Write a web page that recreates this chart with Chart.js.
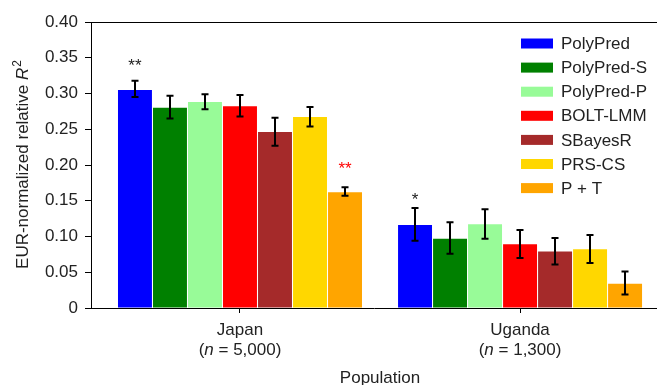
<!DOCTYPE html>
<html><head><meta charset="utf-8">
<script src="https://cdn.jsdelivr.net/npm/chart.js@4.4.0/dist/chart.umd.min.js"></script>
<style>html,body{margin:0;padding:0;background:#fff;overflow:hidden}</style>
</head><body>
<canvas id="c" width="657" height="385"></canvas>
<script>
// ---- data ----
const categories = ['Japan', 'Uganda'];
const sampleSizes = ['5,000', '1,300'];
const methods = ['PolyPred', 'PolyPred-S', 'PolyPred-P', 'BOLT-LMM', 'SBayesR', 'PRS-CS', 'P + T'];
const colors = ['#0000ff', '#008000', '#98fb98', '#ff0000', '#a52a2a', '#ffd700', '#ffa500'];

const polyPred   = [0.305, 0.116];
const polyPredS  = [0.280, 0.097];
const polyPredP  = [0.288, 0.117];
const boltLmm    = [0.282, 0.089];
const sBayesR    = [0.246, 0.079];
const prsCs      = [0.267, 0.082];
const pT         = [0.162, 0.034];

const polyPredLo  = [0.295, 0.094];
const polyPredHi  = [0.318, 0.140];
const polyPredSLo = [0.265, 0.076];
const polyPredSHi = [0.297, 0.120];
const polyPredPLo = [0.278, 0.097];
const polyPredPHi = [0.299, 0.138];
const boltLmmLo   = [0.268, 0.070];
const boltLmmHi   = [0.298, 0.109];
const sBayesRLo   = [0.227, 0.061];
const sBayesRHi   = [0.266, 0.098];
const prsCsLo     = [0.254, 0.063];
const prsCsHi     = [0.281, 0.102];
const pTLo        = [0.157, 0.019];
const pTHi        = [0.169, 0.051];

const yTickValues = [0, 0.05, 0.10, 0.15, 0.20, 0.25, 0.30, 0.35, 0.40];
const yTickLabels = ['0', '0.05', '0.10', '0.15', '0.20', '0.25', '0.30', '0.35', '0.40'];

// significance marks: method index, category index, text, colour, height (data units)
const sigMethod = [0, 6, 0];
const sigCat    = [0, 0, 1];
const sigText   = ['**', '**', '*'];
const sigColor  = ['#222222', '#ff0000', '#222222'];
const sigY      = [0.331, 0.187, 0.144];

const values = [polyPred, polyPredS, polyPredP, boltLmm, sBayesR, prsCs, pT];
const lows   = [polyPredLo, polyPredSLo, polyPredPLo, boltLmmLo, sBayesRLo, prsCsLo, pTLo];
const highs  = [polyPredHi, polyPredSHi, polyPredPHi, boltLmmHi, sBayesRHi, prsCsHi, pTHi];

const FAM = '"Liberation Sans", Arial, Helvetica, sans-serif';
const TXT = '#222222';

const datasets = methods.map((m, i) => ({
  label: m,
  data: values[i].map((v, j) => ({ x: j, y: v })),
  backgroundColor: colors[i],
  borderWidth: 0,
  barPercentage: 0.97,
  categoryPercentage: 0.875
}));

const decorPlugin = {
  id: 'decor',
  afterDatasetsDraw(chart) {
    const ctx = chart.ctx;
    const ys = chart.scales.y, xs = chart.scales.x;
    const ca = chart.chartArea;
    ctx.save();
    // top frame line
    ctx.strokeStyle = '#000'; ctx.lineWidth = 1;
    ctx.beginPath(); ctx.moveTo(ca.left, ca.top + 0.5); ctx.lineTo(ca.right, ca.top + 0.5); ctx.stroke();
    // error bars
    ctx.strokeStyle = '#000'; ctx.lineWidth = 2;
    chart.data.datasets.forEach((ds, i) => {
      const meta = chart.getDatasetMeta(i);
      meta.data.forEach((el, j) => {
        const x = Math.round(el.x);
        const yl = ys.getPixelForValue(lows[i][j]);
        const yh = ys.getPixelForValue(highs[i][j]);
        ctx.beginPath();
        ctx.moveTo(x, yl); ctx.lineTo(x, yh);
        ctx.moveTo(x - 3.5, yl); ctx.lineTo(x + 3.5, yl);
        ctx.moveTo(x - 3.5, yh); ctx.lineTo(x + 3.5, yh);
        ctx.stroke();
      });
    });
    // significance marks
    ctx.font = '17px ' + FAM;
    ctx.textAlign = 'center'; ctx.textBaseline = 'alphabetic';
    sigText.forEach((t, k) => {
      const el = chart.getDatasetMeta(sigMethod[k]).data[sigCat[k]];
      ctx.fillStyle = sigColor[k];
      ctx.fillText(t, el.x, ys.getPixelForValue(sigY[k]));
    });
    // legend
    const lx = ca.right - 136;
    let ly = ca.top + 21.5;
    ctx.textAlign = 'left'; ctx.textBaseline = 'middle';
    chart.data.datasets.forEach((ds) => {
      ctx.fillStyle = ds.backgroundColor;
      ctx.fillRect(lx, ly - 5, 32, 10);
      ctx.fillStyle = TXT;
      ctx.fillText(ds.label, lx + 40, ly + 1);
      ly += 24.1;
    });
    // x category labels
    ctx.textBaseline = 'alphabetic';
    categories.forEach((c, i) => {
      const px = xs.getPixelForValue(i);
      ctx.textAlign = 'center';
      ctx.font = '17px ' + FAM;
      ctx.fillText(c, px, ca.bottom + 27);
      const p1 = '(', p2 = 'n', p3 = ' = ' + sampleSizes[i] + ')';
      ctx.font = '17px ' + FAM; const w1 = ctx.measureText(p1).width; const w3 = ctx.measureText(p3).width;
      ctx.font = 'italic 17px ' + FAM; const w2 = ctx.measureText(p2).width;
      let sx = px - (w1 + w2 + w3) / 2;
      ctx.textAlign = 'left';
      ctx.font = '17px ' + FAM; ctx.fillText(p1, sx, ca.bottom + 47); sx += w1;
      ctx.font = 'italic 17px ' + FAM; ctx.fillText(p2, sx, ca.bottom + 47); sx += w2;
      ctx.font = '17px ' + FAM; ctx.fillText(p3, sx, ca.bottom + 47);
    });
    // x axis title
    ctx.textAlign = 'center';
    ctx.font = '17px ' + FAM;
    ctx.fillText('Population', xs.getPixelForValue(0.5), ca.bottom + 75);
    // y axis title
    ctx.translate(28, (ca.top + ca.bottom) / 2);
    ctx.rotate(-Math.PI / 2);
    const t1 = 'EUR-normalized relative ', t2 = 'R', t3 = '2';
    ctx.font = '17px ' + FAM; const a1 = ctx.measureText(t1).width;
    ctx.font = 'italic 17px ' + FAM; const a2 = ctx.measureText(t2).width;
    ctx.font = '12px ' + FAM; const a3 = ctx.measureText(t3).width;
    let sx = -(a1 + a2 + a3) / 2;
    ctx.textAlign = 'left';
    ctx.font = '17px ' + FAM; ctx.fillText(t1, sx, 0); sx += a1;
    ctx.font = 'italic 17px ' + FAM; ctx.fillText(t2, sx, 0); sx += a2 + 1;
    ctx.font = '12px ' + FAM; ctx.fillText(t3, sx, -7);
    ctx.restore();
  }
};

new Chart(document.getElementById('c'), {
  type: 'bar',
  data: { datasets },
  options: {
    responsive: false,
    animation: false,
    devicePixelRatio: 1,
    layout: { padding: { top: 22, right: 0, left: 0, bottom: 0 } },
    plugins: { legend: { display: false }, tooltip: { enabled: false } },
    scales: {
      x: {
        type: 'linear', min: -0.532, max: 1.489,
        offset: false, bounds: 'data',
        afterBuildTicks: s => { s.ticks = categories.map((c, i) => ({ value: i })); },
        afterFit: s => { s.height = 77; },
        ticks: { callback: () => '', font: { size: 17, family: FAM } },
        grid: { display: true, offset: false, drawOnChartArea: false, drawTicks: true, tickLength: 5, color: '#000', lineWidth: 1 },
        border: { display: true, color: '#000', width: 1 }
      },
      y: {
        min: 0, max: 0.4,
        afterBuildTicks: s => { s.ticks = yTickValues.map(v => ({ value: v })); },
        afterFit: s => { s.width = 91; },
        ticks: { callback: (v, i) => yTickLabels[i], font: { size: 17, family: FAM }, color: TXT, padding: 7 },
        grid: { display: true, drawOnChartArea: false, drawTicks: true, tickLength: 6, color: '#000', lineWidth: 1 },
        border: { display: true, color: '#000', width: 1 }
      }
    }
  },
  plugins: [decorPlugin]
});
</script>
</body></html>
